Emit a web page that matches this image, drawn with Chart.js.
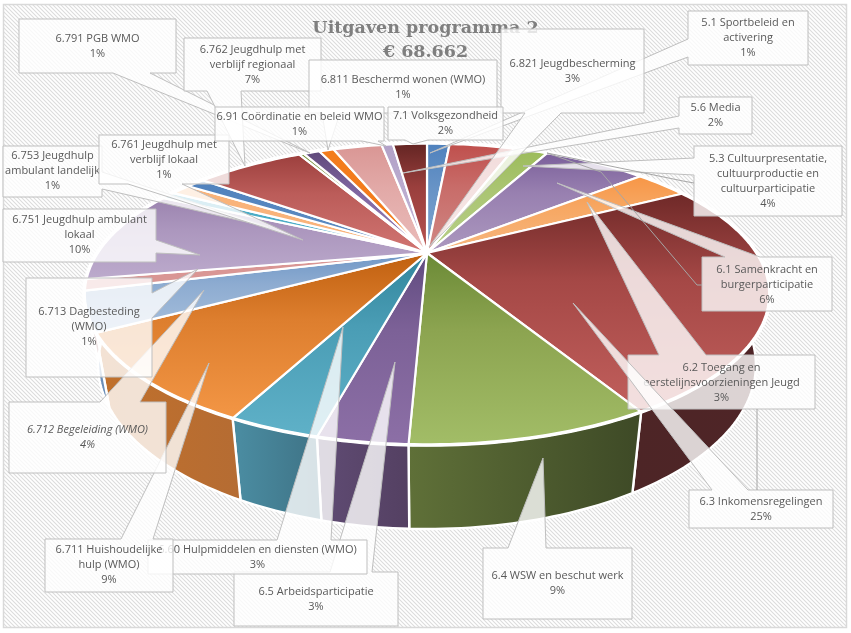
<!DOCTYPE html>
<html>
<head>
<meta charset="utf-8">
<title>Uitgaven programma 2</title>
<script src="https://cdn.jsdelivr.net/npm/chart.js@4"></script>
<style>
    html, body { margin: 0; padding: 0; background: #fff; }
    canvas { display: block; }
</style>
</head>
<body>
<canvas id="pie" width="851" height="633"></canvas>
<script>
// slices clockwise from 12 o'clock, two of them have no label in the original
const categories = ["5.1 Sportbeleid en activering", "5.3 Cultuurpresentatie, cultuurproductie en cultuurparticipatie",
    "5.6 Media", "6.1 Samenkracht en burgerparticipatie", "6.2 Toegang en eerstelijnsvoorzieningen Jeugd",
    "6.3 Inkomensregelingen", "6.4 WSW en beschut werk", "6.5 Arbeidsparticipatie", "6.60 Hulpmiddelen en diensten (WMO)",
    "6.711 Huishoudelijke hulp (WMO)", "6.712 Begeleiding (WMO)", "6.713 Dagbesteding (WMO)", "6.751 Jeugdhulp ambulant lokaal",
    "6.753 Jeugdhulp ambulant landelijk", "6.761 Jeugdhulp met verblijf lokaal", "", "6.762 Jeugdhulp met verblijf regionaal",
    "", "6.791 PGB WMO", "6.811 Beschermd wonen (WMO)", "6.821 Jeugdbescherming", "6.91 Coördinatie en beleid WMO", "7.1 Volksgezondheid"];
const shares = [1.4, 4.0, 2.1, 6.3, 3.2, 24.7, 8.9, 3.3, 3.4, 9.4, 4.2, 1.2, 10.1, 0.8, 1.2, 1.1, 6.6, 0.3, 1.0, 0.9, 3.0, 0.7, 2.1];
const titleLines = ["Uitgaven programma 2", "€ 68.662"];

const topDark = ["#4f81bd", "#bf4f4c", "#9bbb59", "#7a5f9a", "#f79646", "#6f2928", "#6b8a36", "#5f4a7f", "#31859c", "#c0600f", "#6f97c6",
    "#d99694", "#9b83ae", "#4bacc6", "#f9b37a", "#4f81bd", "#9c3f3d", "#76923c", "#5f497a", "#f37c1c", "#d99694", "#b2a1c7", "#632523"];
const topMid = ["#6793c6", "#c86c69", "#aac572", "#9880b0", "#f7a762", "#a54846", "#8ca450", "#7c6197", "#4a9db5", "#dd7e2e", "#8eacd1",
    "#d99694", "#ac97be", "#4bacc6", "#f9b37a", "#5787bf", "#bb5c59", "#76923c", "#7f66a0", "#f37c1c", "#e2a9a7", "#baabce", "#9a3f3d"];
const topLight = ["#7ea5cf", "#d08885", "#b8cf8a", "#ac98bf", "#f6b77f", "#c15f5c", "#a2bd67", "#8c6fa6", "#5fb1c8", "#f39645", "#a6bfdc",
    "#d99694", "#bcaacc", "#4bacc6", "#f9b37a", "#5f8dc2", "#d17572", "#76923c", "#9a83b8", "#f37c1c", "#eabcba", "#c3b5d6", "#b85350"];
const wallLeft = ["#3b608d", "#8f3b39", "#748c43", "#604b7a", "#b97034", "#4d2526", "#5f7038", "#5f4b73", "#4a8ba0", "#c0702c", "#6b8eb8",
    "#a37070", "#74618a", "#388195", "#b97034", "#3b608d", "#8f3b39", "#748c43", "#604b7a", "#b97034", "#a37070", "#85788f", "#4d2526"];
const wallRight = ["#3b608d", "#8f3b39", "#748c43", "#604b7a", "#b97034", "#4f2527", "#3f4b27", "#544062", "#3e7285", "#b56c33", "#6b8eb8",
    "#a37070", "#74618a", "#388195", "#b97034", "#3b608d", "#8f3b39", "#748c43", "#604b7a", "#b97034", "#a37070", "#85788f", "#4d2526"];

// perspective of the tilted disc, fitted on the reference
const view = { x: 427, y: 253, c: 330, a: 139.9, b: -0.2715 };
const rimEllipse = { y: 294, rx: 343, ry: 151 };
const baseEllipse = { y: 365, rx: 329, ry: 164 };

// callouts in drawing order: slice, text lines, box, side and base of the wedge, tip
const callouts = [
    { slice: 0, lines: ["5.1 Sportbeleid en", "activering"], box: [688, 11, 120, 54], side: "l", base: [39, 57], tip: [430, 153], textY: 23 },
    { slice: 1, lines: ["5.3 Cultuurpresentatie,", "cultuurproductie en", "cultuurparticipatie"], box: [694, 146, 148, 70], side: "l", base: [158, 175], tip: [523, 166], textY: 159 },
    { slice: 2, lines: ["5.6 Media"], box: [679, 97, 73, 37], side: "l", base: [116, 128], tip: [403, 173], textY: 108 },
    { slice: 3, lines: ["6.1 Samenkracht en", "burgerparticipatie"], box: [702, 257, 130, 54], side: "t", base: [725, 760], tip: [557, 183], textY: 270 },
    { slice: 4, lines: ["6.2 Toegang en", "eerstelijnsvoorzieningen Jeugd"], box: [628, 355, 187, 54], side: "t", base: [659, 706], tip: [587, 202], textY: 368 },
    { slice: 5, lines: ["6.3 Inkomensregelingen"], box: [689, 490, 144, 38], side: "t", base: [712, 748], tip: [573, 303], textY: 502 },
    { slice: 6, lines: ["6.4 WSW en beschut werk"], box: [483, 548, 149, 71], side: "t", base: [508, 546], tip: [543, 458], textY: 576 },
    { slice: 7, lines: ["6.5 Arbeidsparticipatie"], box: [234, 572, 164, 54], side: "t", base: [330, 372], tip: [395, 362], textY: 592 },
    { slice: 8, lines: ["6.60 Hulpmiddelen en diensten (WMO)"], box: [148, 540, 219, 34], side: "t", base: [277, 331], tip: [343, 327], textY: 550 },
    { slice: 9, lines: ["6.711 Huishoudelijke", "hulp (WMO)"], box: [45, 539, 128, 53], side: "t", base: [121, 153], tip: [209, 363], textY: 550 },
    { slice: 10, lines: ["6.712 Begeleiding (WMO)"], box: [9, 402, 157, 71], side: "t", base: [100, 140], tip: [204, 290], textY: 430, italic: true },
    { slice: 11, lines: ["6.713 Dagbesteding", "(WMO)"], box: [26, 278, 126, 99], side: "r", base: [293, 318], tip: [198, 269], textY: 312 },
    { slice: 12, lines: ["6.751 Jeugdhulp ambulant", "lokaal"], box: [3, 209, 153, 53], side: "r", base: [240, 253], tip: [200, 255], textY: 220 },
    { slice: 13, lines: ["6.753 Jeugdhulp", "ambulant landelijk"], box: [3, 146, 99, 51], side: "r", base: [172, 189], tip: [268, 227], textY: 156 },
    { slice: 14, lines: ["6.761 Jeugdhulp met", "verblijf lokaal"], box: [99, 135, 130, 49], side: "b", base: [128, 182], tip: [303, 240], textY: 145 },
    { slice: 18, lines: ["6.791 PGB WMO"], box: [19, 19, 157, 54], side: "b", base: [113, 150], tip: [310, 153], textY: 39 },
    { slice: 16, lines: ["6.762 Jeugdhulp met", "verblijf regionaal"], box: [184, 38, 137, 53], side: "b", base: [207, 241], tip: [245, 166], textY: 50 },
    { slice: 19, lines: ["6.811 Beschermd wonen (WMO)"], box: [309, 60, 188, 53], side: "b", base: [322, 340], tip: [328, 150], textY: 80 },
    { slice: 20, lines: ["6.821 Jeugdbescherming"], box: [501, 29, 143, 84], side: "b", base: [525, 561], tip: [429, 247], textY: 64 },
    { slice: 21, lines: ["6.91 Coördinatie en beleid WMO"], box: [215, 107, 169, 34], side: "b", base: [362, 378], tip: [386, 146], textY: 117 },
    { slice: 22, lines: ["7.1 Volksgezondheid"], box: [388, 107, 115, 33], side: "b", base: [405, 428], tip: [413, 144], textY: 116 }
];
const leaderLines = [
    [[694, 183], [683, 181], [547, 153], [601, 172], [697, 285], [702, 285]],
    [[757, 409], [757, 490]]
];

function rimPoint(angle) {
    const u = Math.cos(angle), v = Math.sin(angle);
    const f = 1 + view.b * v;
    return { x: view.x + view.c * u / f, y: view.y + view.a * v / f };
}

function basePoint(angle) {
    const p = rimPoint(angle);
    return {
        x: view.x + baseEllipse.rx * (p.x - view.x) / rimEllipse.rx,
        y: baseEllipse.y + baseEllipse.ry * (p.y - rimEllipse.y) / rimEllipse.ry
    };
}

function sampleAngles(start, end) {
    const steps = Math.max(2, Math.ceil((end - start) / 0.02));
    const out = [];
    for (let i = 0; i <= steps; i++) out.push(start + (end - start) * i / steps);
    return out;
}

function hatchPattern(ctx) {
    const tile = document.createElement("canvas");
    tile.width = 4;
    tile.height = 4;
    const t = tile.getContext("2d");
    t.fillStyle = "#ffffff";
    t.fillRect(0, 0, 4, 4);
    t.strokeStyle = "#dcdcdc";
    t.lineWidth = 1.1;
    t.beginPath();
    t.moveTo(-1, -1); t.lineTo(5, 5);
    t.moveTo(-1, 3); t.lineTo(1, 5);
    t.moveTo(3, -1); t.lineTo(5, 1);
    t.stroke();
    return ctx.createPattern(tile, "repeat");
}

function calloutPath(ctx, c) {
    const [x, y, w, h] = c.box;
    const [b0, b1] = c.base;
    ctx.beginPath();
    ctx.moveTo(x, y);
    if (c.side === "t") { ctx.lineTo(b0, y); ctx.lineTo(c.tip[0], c.tip[1]); ctx.lineTo(b1, y); }
    ctx.lineTo(x + w, y);
    if (c.side === "r") { ctx.lineTo(x + w, b0); ctx.lineTo(c.tip[0], c.tip[1]); ctx.lineTo(x + w, b1); }
    ctx.lineTo(x + w, y + h);
    if (c.side === "b") { ctx.lineTo(b1, y + h); ctx.lineTo(c.tip[0], c.tip[1]); ctx.lineTo(b0, y + h); }
    ctx.lineTo(x, y + h);
    if (c.side === "l") { ctx.lineTo(x, b1); ctx.lineTo(c.tip[0], c.tip[1]); ctx.lineTo(x, b0); }
    ctx.closePath();
}

const backgroundPlugin = {
    id: "background",
    beforeDraw(chart) {
        const ctx = chart.ctx;
        ctx.save();
        ctx.fillStyle = "#fff";
        ctx.fillRect(0, 0, chart.width, chart.height);
        ctx.fillStyle = hatchPattern(ctx);
        ctx.fillRect(4, 5, 842, 622);
        ctx.strokeStyle = "#d9d9d9";
        ctx.lineWidth = 1.5;
        ctx.strokeRect(3.5, 4.5, 843, 623);
        ctx.restore();
    }
};

// replaces the flat pie by the tilted one, the angles still come from the arc elements
const tiltPlugin = {
    id: "tilt",
    beforeDatasetDraw(chart, args) {
        const ctx = chart.ctx;
        const arcs = chart.getDatasetMeta(args.index).data;
        ctx.save();
        ctx.lineJoin = "round";
        ctx.strokeStyle = "#ffffff";

        arcs.forEach(function (arc, i) {
            const angles = sampleAngles(arc.startAngle, arc.endAngle);
            const top = angles.map(rimPoint);
            const bottom = angles.map(basePoint);
            const xs = bottom.map(p => p.x);
            const grad = ctx.createLinearGradient(Math.min(...xs), 0, Math.max(...xs), 0);
            grad.addColorStop(0, wallLeft[i]);
            grad.addColorStop(1, wallRight[i]);
            ctx.beginPath();
            top.forEach((p, k) => k ? ctx.lineTo(p.x, p.y) : ctx.moveTo(p.x, p.y));
            bottom.reverse().forEach(p => ctx.lineTo(p.x, p.y));
            ctx.closePath();
            ctx.fillStyle = grad;
            ctx.fill();
            ctx.lineWidth = 2.4;
            ctx.stroke();
        });

        arcs.forEach(function (arc, i) {
            const rim = sampleAngles(arc.startAngle, arc.endAngle).map(rimPoint);
            const ys = rim.map(p => p.y).concat(view.y);
            const grad = ctx.createLinearGradient(0, Math.min(...ys), 0, Math.max(...ys));
            grad.addColorStop(0, topDark[i]);
            grad.addColorStop(0.4, topMid[i]);
            grad.addColorStop(1, topLight[i]);
            ctx.beginPath();
            ctx.moveTo(view.x, view.y);
            rim.forEach(p => ctx.lineTo(p.x, p.y));
            ctx.closePath();
            ctx.fillStyle = grad;
            ctx.fill();
            ctx.lineWidth = 2.2;
            ctx.stroke();
        });

        // the thick white edge between the top and the wall
        ctx.lineWidth = 3.6;
        ctx.beginPath();
        sampleAngles(arcs[0].startAngle, arcs[arcs.length - 1].endAngle).map(rimPoint)
            .forEach((p, k) => k ? ctx.lineTo(p.x, p.y) : ctx.moveTo(p.x, p.y));
        ctx.stroke();
        ctx.restore();
        return false;
    }
};

const calloutPlugin = {
    id: "callouts",
    afterDatasetsDraw(chart) {
        const ctx = chart.ctx;
        ctx.save();
        ctx.textAlign = "center";
        ctx.textBaseline = "middle";
        callouts.forEach(function (c) {
            calloutPath(ctx, c);
            ctx.fillStyle = "rgba(255,255,255,0.8)";
            ctx.fill();
            ctx.strokeStyle = "#bfbfbf";
            ctx.lineWidth = 1;
            ctx.stroke();
            ctx.fillStyle = "#595959";
            ctx.font = (c.italic ? "italic " : "") + "11px 'Open Sans'";
            const textX = c.box[0] + c.box[2] / 2;
            c.lines.concat(Math.round(shares[c.slice]) + "%").forEach(function (line, k) {
                ctx.fillText(line, textX, c.textY + k * 15);
            });
        });
        ctx.strokeStyle = "#a6a6a6";
        ctx.lineWidth = 1;
        leaderLines.forEach(function (pts) {
            ctx.beginPath();
            pts.forEach((p, k) => k ? ctx.lineTo(p[0], p[1]) : ctx.moveTo(p[0], p[1]));
            ctx.stroke();
        });
        ctx.restore();
    }
};

new Chart(document.getElementById("pie"), {
    type: "pie",
    data: {
        labels: categories,
        datasets: [{ data: shares, backgroundColor: topLight }]
    },
    options: {
        responsive: false,
        animation: false,
        layout: { padding: 0 },
        plugins: {
            legend: { display: false },
            tooltip: { enabled: false },
            title: {
                display: true,
                text: titleLines,
                color: "#7f7f7f",
                font: { family: "'DejaVu Serif'", size: 17.5, weight: "bold", lineHeight: 1.37 },
                padding: { top: 16, bottom: 0 }
            }
        }
    },
    plugins: [backgroundPlugin, tiltPlugin, calloutPlugin]
});
</script>
</body>
</html>
